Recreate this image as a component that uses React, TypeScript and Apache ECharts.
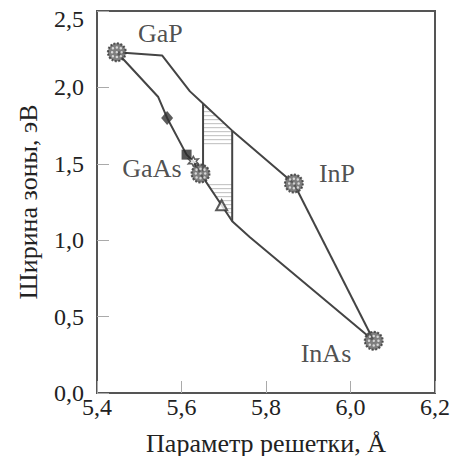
import React, { useEffect, useRef } from 'react';
import * as echarts from 'echarts';

// Compounds (binary end points)
const compoundNames = ['GaP', 'GaAs', 'InP', 'InAs'];
const compoundX = [5.447, 5.645, 5.866, 6.055];
const compoundY = [2.23, 1.436, 1.371, 0.342];
const labelX = [5.55, 5.53, 5.968, 5.942];
const labelY = [2.35, 1.47, 1.438, 0.261];

// Lower boundary curve (GaP -> GaAs -> InAs)
const lowerX = [5.447, 5.545, 5.566, 5.612, 5.628, 5.645, 5.695, 5.72, 5.762, 6.055];
const lowerY = [2.23, 1.937, 1.8, 1.56, 1.516, 1.436, 1.229, 1.124, 1.02, 0.342];

// Upper boundary curve (GaP -> InP)
const upperX = [5.447, 5.554, 5.62, 5.651, 5.72, 5.866];
const upperY = [2.23, 2.209, 1.974, 1.895, 1.717, 1.371];

// InP -> InAs
const sideX = [5.866, 6.055];
const sideY = [1.371, 0.342];

// Vertical bounds of hatched region
const leftVX = [5.651, 5.651];
const leftVY = [1.895, 1.45];
const rightVX = [5.72, 5.72];
const rightVY = [1.717, 1.124];

// Hatched region polygon and hatched bands
const hatchX = [5.651, 5.72, 5.72, 5.695, 5.651];
const hatchY = [1.895, 1.717, 1.124, 1.229, 1.411];
const bandLow = [1.63, 1.12];
const bandHigh = [1.9, 1.37];

// Extra markers
const diamondPt = [5.566, 1.8];
const squarePt = [5.612, 1.56];
const starPt = [5.628, 1.516];
const trianglePt = [5.695, 1.229];

const FONT = "'Liberation Serif', 'Times New Roman', serif";
const fmt = (v: number) => v.toFixed(1).replace('.', ',');

const dot = (x: number, y: number, r: number) =>
  `M${x + r} ${y}A${r} ${r} 0 1 1 ${x - r} ${y}A${r} ${r} 0 1 1 ${x + r} ${y}Z`;
const dotsPath =
  'path://' +
  [
    [5, 5], [10, 4], [15, 5],
    [4, 10], [10, 10], [16, 10],
    [5, 15], [10, 16], [15, 15],
  ]
    .map(([x, y]) => dot(x, y, 1.6))
    .join('');

const starPath = (() => {
  const pts: string[] = [];
  for (let i = 0; i < 12; i++) {
    const r = i % 2 === 0 ? 10 : 5;
    const a = (Math.PI / 6) * i - Math.PI / 2;
    pts.push(`${(10 + r * Math.cos(a)).toFixed(2)} ${(10 + r * Math.sin(a)).toFixed(2)}`);
  }
  return 'path://M' + pts.join('L') + 'Z';
})();

export default function App() {
  const ref = useRef<HTMLDivElement>(null);
  useEffect(() => {
    if (!ref.current) return;
    const chart = echarts.init(ref.current, undefined, { renderer: 'svg' });
    const lineStyle = { color: '#444', width: 2 };
    const pairs = (xs: number[], ys: number[]) => xs.map((x, i) => [x, ys[i]]);
    const lineSeries = (xs: number[], ys: number[]) => ({
      type: 'line',
      data: pairs(xs, ys),
      symbol: 'none',
      lineStyle,
      z: 2,
    });
    chart.setOption({
      animation: false,
      grid: {
        left: 97,
        right: 16,
        top: 11,
        bottom: 63,
        show: true,
        borderColor: '#555',
        borderWidth: 2,
        containLabel: false,
        outerBoundsMode: 'none',
      },
      xAxis: {
        type: 'value',
        min: 5.4,
        max: 6.2,
        interval: 0.2,
        name: 'Параметр решетки, Å',
        nameLocation: 'middle',
        nameGap: 37,
        nameTextStyle: { fontFamily: FONT, fontSize: 26, color: '#222' },
        axisLine: { show: true, lineStyle: { color: '#555', width: 2 } },
        axisTick: { show: true, inside: true, length: 12, lineStyle: { color: '#aaa' } },
        axisLabel: { fontFamily: FONT, fontSize: 24, color: '#222', margin: 2, formatter: fmt },
        splitLine: { show: false },
      },
      yAxis: {
        type: 'value',
        min: 0,
        max: 2.5,
        interval: 0.5,
        name: 'Ширина зоны, эВ',
        nameLocation: 'middle',
        nameGap: 56,
        nameTextStyle: { fontFamily: FONT, fontSize: 26, color: '#222' },
        axisLine: { show: true, lineStyle: { color: '#555', width: 2 } },
        axisTick: { show: true, inside: true, length: 12, lineStyle: { color: '#aaa' } },
        axisLabel: {
          fontFamily: FONT,
          fontSize: 24,
          color: '#222',
          margin: 13,
          formatter: (v: number) => (v >= 2.5 ? `{t|${fmt(v)}}` : fmt(v)),
          rich: {
            t: { fontFamily: FONT, fontSize: 24, color: '#222', padding: [16, 0, 0, 0] },
          },
        },
        splitLine: { show: false },
      },
      series: [
        {
          type: 'custom',
          coordinateSystem: 'cartesian2d',
          data: bandLow.map((v, i) => [5.68, v, bandHigh[i]]),
          encode: { x: 0, y: [1, 2] },
          z: 1,
          renderItem: (params: any, api: any) => {
            const lo = api.value(1);
            const hi = api.value(2);
            const poly = hatchX.map((x, i) => api.coord([x, hatchY[i]]));
            const yTop = api.coord([5.68, hi])[1];
            const yBot = api.coord([5.68, lo])[1];
            const children: any[] = [];
            for (let y = yTop + 1; y < yBot; y += 4) {
              const xs: number[] = [];
              for (let k = 0; k < poly.length; k++) {
                const p1 = poly[k];
                const p2 = poly[(k + 1) % poly.length];
                if ((p1[1] <= y && p2[1] > y) || (p2[1] <= y && p1[1] > y)) {
                  xs.push(p1[0] + ((y - p1[1]) * (p2[0] - p1[0])) / (p2[1] - p1[1]));
                }
              }
              xs.sort((a, b) => a - b);
              for (let j = 0; j + 1 < xs.length; j += 2) {
                children.push({
                  type: 'line',
                  shape: { x1: xs[j], y1: y, x2: xs[j + 1], y2: y },
                  style: { stroke: '#bdbdbd', lineWidth: 1 },
                });
              }
            }
            return { type: 'group', children };
          },
        },
        lineSeries(lowerX, lowerY),
        lineSeries(upperX, upperY),
        lineSeries(sideX, sideY),
        lineSeries(leftVX, leftVY),
        lineSeries(rightVX, rightVY),
        {
          type: 'scatter',
          data: [diamondPt],
          symbol: 'diamond',
          symbolSize: [12, 14],
          itemStyle: { color: '#333' },
          z: 3,
        },
        {
          type: 'scatter',
          data: [squarePt],
          symbol: 'rect',
          symbolSize: 10,
          itemStyle: { color: '#2a2a2a' },
          z: 3,
        },
        {
          type: 'scatter',
          data: [starPt],
          symbol: starPath,
          symbolSize: 10,
          itemStyle: { color: '#fff', borderColor: '#333', borderWidth: 1.5 },
          z: 3,
        },
        {
          type: 'scatter',
          data: [trianglePt],
          symbol: 'triangle',
          symbolSize: [11, 10],
          itemStyle: { color: '#fff', borderColor: '#333', borderWidth: 2 },
          z: 3,
        },
        {
          type: 'scatter',
          data: pairs(compoundX, compoundY),
          symbol: 'circle',
          symbolSize: 18,
          itemStyle: {
            color: '#5e5e5e',
            borderColor: '#333',
            borderWidth: 2,
            borderType: [2, 1.5],
          },
          z: 4,
        },
        {
          type: 'scatter',
          data: pairs(compoundX, compoundY),
          symbol: dotsPath,
          symbolSize: 12,
          itemStyle: { color: '#eeeeee' },
          z: 5,
          silent: true,
        },
        {
          type: 'scatter',
          data: labelX.map((x, i) => ({ value: [x, labelY[i]], name: compoundNames[i] })),
          symbolSize: 0,
          z: 6,
          label: {
            show: true,
            position: 'inside',
            formatter: (p: any) => p.name,
            fontFamily: FONT,
            fontSize: 26,
            color: '#222',
          },
        },
      ],
    });
    return () => chart.dispose();
  }, []);
  return (
    <div
      ref={ref}
      style={{ position: 'absolute', left: 0, top: 0, width: 451, height: 456 }}
    />
  );
}
